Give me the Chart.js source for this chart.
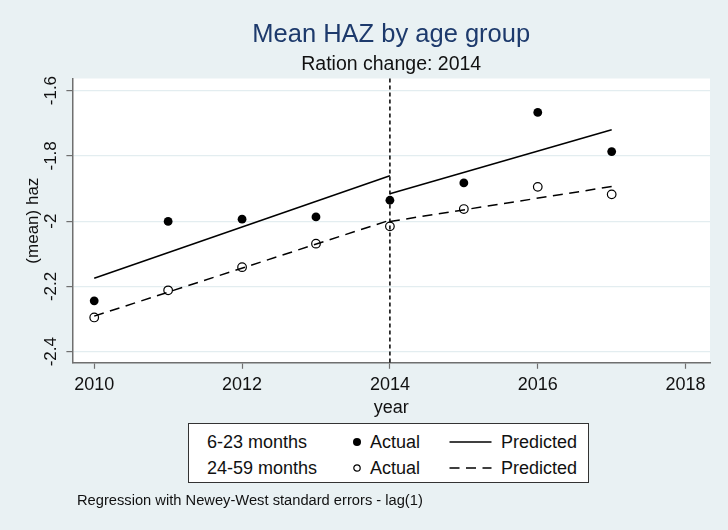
<!DOCTYPE html>
<html>
<head>
<meta charset="utf-8">
<script src="https://cdn.jsdelivr.net/npm/chart.js@4/dist/chart.umd.min.js"></script>
<style>
  body { margin: 0; background: #e9f1f3; }
  #wrap { position: relative; width: 728px; height: 530px; }
  #legend {
    position: absolute; left: 188px; top: 423px; width: 399px; height: 58px;
    background: #fff; border: 1px solid #333;
    font-family: 'Liberation Sans', Arial, sans-serif;
    font-size: 18px; color: #111;
  }
  #legend span { position: absolute; line-height: 20px; white-space: nowrap; }
  #legend svg { position: absolute; }
  #note {
    position: absolute; left: 77px; top: 492px;
    font-family: 'Liberation Sans', Arial, sans-serif;
    font-size: 14.7px; color: #111; white-space: nowrap;
  }
</style>
</head>
<body>
<div id="wrap">
  <canvas id="chart" width="728" height="530"></canvas>
  <div id="legend">
    <span style="left:18px; top:8px">6-23 months</span>
    <svg style="left:162px; top:12px" width="12" height="12"><circle cx="6" cy="6" r="4" fill="#000"/></svg>
    <span style="left:181px; top:8px">Actual</span>
    <svg style="left:260px; top:12px" width="44" height="12"><line x1="0.5" y1="6" x2="42.5" y2="6" stroke="#000" stroke-width="1.5"/></svg>
    <span style="left:312px; top:8px">Predicted</span>

    <span style="left:18px; top:34px">24-59 months</span>
    <svg style="left:162px; top:38px" width="12" height="12"><circle cx="6" cy="6" r="3.2" fill="none" stroke="#000" stroke-width="1.2"/></svg>
    <span style="left:181px; top:34px">Actual</span>
    <svg style="left:260px; top:38px" width="44" height="12"><line x1="0.5" y1="6" x2="42.5" y2="6" stroke="#000" stroke-width="1.5" stroke-dasharray="10,6.5"/></svg>
    <span style="left:312px; top:34px">Predicted</span>
  </div>
  <div id="note">Regression with Newey-West standard errors - lag(1)</div>
</div>
<script>
// values
const years = [2010, 2011, 2012, 2013, 2014, 2015, 2016, 2017];
const actualYoung = [-2.244, -2.001, -1.994, -1.987, -1.936, -1.883, -1.667, -1.787];
const actualOld   = [-2.295, -2.212, -2.141, -2.069, -2.016, -1.963, -1.895, -1.918];

const preYears  = [2010, 2014];
const postYears = [2014, 2017];
const predYoungPre  = [-2.175, -1.861];
const predYoungPost = [-1.916, -1.720];
const predOldPre    = [-2.291, -1.997];
const predOldPost   = [-2.001, -1.894];

const changeYear = 2014;
const xTicks = [2010, 2012, 2014, 2016, 2018];
const yTicks = [-2.4, -2.2, -2, -1.8, -1.6];

const FONT = "'Liberation Sans', Arial, sans-serif";
const AXIS_GRAY = '#6f6f6f';

const pts = (xs, ys) => xs.map((x, i) => ({ x: x, y: ys[i] }));

const predLine = (xs, ys, dash) => ({
    data: pts(xs, ys),
    showLine: true,
    borderColor: '#000',
    borderWidth: 1.5,
    borderDash: dash,
    pointRadius: 0,
    fill: false
});

// white plot region, reference line at the ration change, rotated y labels
const stataBits = {
    id: 'stataBits',
    beforeDraw(chart) {
        const a = chart.chartArea;
        const ctx = chart.ctx;
        ctx.save();
        ctx.fillStyle = '#fff';
        ctx.fillRect(a.left, a.top, a.right - a.left, a.bottom - a.top);
        ctx.restore();
    },
    afterDatasetsDraw(chart) {
        const a = chart.chartArea;
        const ctx = chart.ctx;
        const x = chart.scales.x.getPixelForValue(changeYear);
        ctx.save();
        ctx.strokeStyle = '#000';
        ctx.lineWidth = 1.5;
        ctx.setLineDash([4, 3]);
        ctx.beginPath();
        ctx.moveTo(x, a.top);
        ctx.lineTo(x, a.bottom);
        ctx.stroke();
        ctx.restore();
    },
    afterDraw(chart) {
        const ys = chart.scales.y;
        const ctx = chart.ctx;
        ctx.save();
        ctx.fillStyle = '#111';
        ctx.font = '17px ' + FONT;
        ctx.textAlign = 'center';
        ctx.textBaseline = 'middle';
        yTicks.forEach(v => {
            ctx.save();
            ctx.translate(51, ys.getPixelForValue(v));
            ctx.rotate(-Math.PI / 2);
            ctx.fillText(String(v), 0, 0);
            ctx.restore();
        });
        ctx.restore();
    }
};

new Chart(document.getElementById('chart'), {
    type: 'scatter',
    data: {
        datasets: [
            {
                data: pts(years, actualYoung),
                pointRadius: 4.4,
                pointBackgroundColor: '#000',
                pointBorderColor: '#000',
                pointBorderWidth: 0
            },
            {
                data: pts(years, actualOld),
                pointRadius: 4.3,
                pointBackgroundColor: 'rgba(0,0,0,0)',
                pointBorderColor: '#000',
                pointBorderWidth: 1.2
            },
            predLine(preYears, predYoungPre, []),
            predLine(postYears, predYoungPost, []),
            predLine(preYears, predOldPre, [10, 6.5]),
            predLine(postYears, predOldPost, [10, 6.5])
        ]
    },
    options: {
        responsive: false,
        animation: false,
        layout: { padding: { left: 15, right: 18, top: 0, bottom: 111 } },
        plugins: {
            legend: { display: false },
            tooltip: { enabled: false },
            title: {
                display: true,
                text: 'Mean HAZ by age group',
                fullSize: false,
                color: '#1d3a6c',
                font: { family: FONT, size: 25.5, weight: 'normal' },
                padding: { top: 20, bottom: 0 }
            },
            subtitle: {
                display: true,
                text: 'Ration change: 2014',
                fullSize: false,
                color: '#111',
                font: { family: FONT, size: 19.5, weight: 'normal' },
                padding: { top: 2.5, bottom: 2 }
            }
        },
        scales: {
            x: {
                type: 'linear',
                min: 2009.705,
                max: 2018.33,
                afterBuildTicks: s => { s.ticks = xTicks.map(v => ({ value: v })); },
                border: { color: AXIS_GRAY, width: 1.5 },
                grid: { drawOnChartArea: false, drawTicks: true, tickLength: 6, tickColor: AXIS_GRAY, tickWidth: 1.2 },
                ticks: {
                    color: '#111',
                    font: { family: FONT, size: 18 },
                    padding: 5,
                    maxRotation: 0,
                    callback: v => String(v)
                },
                title: {
                    display: true,
                    text: 'year',
                    color: '#111',
                    font: { family: FONT, size: 18 },
                    padding: { top: -3, bottom: 0 }
                }
            },
            y: {
                type: 'linear',
                min: -2.434,
                max: -1.563,
                afterBuildTicks: s => { s.ticks = yTicks.map(v => ({ value: v })); },
                border: { color: AXIS_GRAY, width: 1.5 },
                grid: { color: '#e3edf0', lineWidth: 1.2, drawTicks: true, tickLength: 6, tickColor: AXIS_GRAY, tickWidth: 1.2 },
                ticks: { display: false },
                title: {
                    display: true,
                    text: '(mean) haz',
                    color: '#111',
                    font: { family: FONT, size: 17 },
                    padding: { top: 8, bottom: 23 }
                }
            }
        }
    },
    plugins: [stataBits]
});
</script>
</body>
</html>
